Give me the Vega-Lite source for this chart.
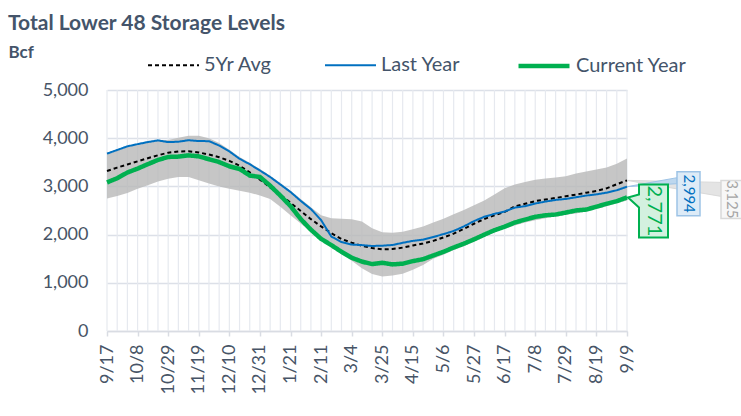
{
  "$schema": "https://vega.github.io/schema/vega-lite/v6.json",
  "width": 520,
  "height": 241,
  "autosize": "none",
  "padding": {"left": 107, "top": 90, "right": 114, "bottom": 85},
  "background": "white",
  "config": {"font": "Lato", "view": {"stroke": null}},
  "title": {"text": "Total Lower 48 Storage Levels", "anchor": "start", "frame": "group", "dx": -99, "dy": -4, "fontSize": 21, "fontWeight": "bold", "color": "#44546A", "offset": 0},
  "resolve": {"axis": {"x": "independent", "y": "independent"}},
  "data": {"values": [
    {"date": "2021-09-17", "cur": 3082, "last": 3680, "avg": 3320, "lo": 2750, "hi": 3690},
    {"date": "2021-09-24", "cur": 3170, "last": 3756, "avg": 3390, "lo": 2800, "hi": 3760},
    {"date": "2021-10-01", "cur": 3288, "last": 3831, "avg": 3455, "lo": 2865, "hi": 3835},
    {"date": "2021-10-08", "cur": 3369, "last": 3877, "avg": 3520, "lo": 2950, "hi": 3880},
    {"date": "2021-10-15", "cur": 3461, "last": 3920, "avg": 3585, "lo": 3025, "hi": 3925},
    {"date": "2021-10-22", "cur": 3548, "last": 3955, "avg": 3645, "lo": 3100, "hi": 3960},
    {"date": "2021-10-29", "cur": 3611, "last": 3919, "avg": 3700, "lo": 3160, "hi": 3965},
    {"date": "2021-11-05", "cur": 3618, "last": 3927, "avg": 3725, "lo": 3195, "hi": 4010},
    {"date": "2021-11-12", "cur": 3644, "last": 3958, "avg": 3730, "lo": 3195, "hi": 4050},
    {"date": "2021-11-19", "cur": 3623, "last": 3940, "avg": 3705, "lo": 3130, "hi": 4050},
    {"date": "2021-11-26", "cur": 3564, "last": 3939, "avg": 3660, "lo": 3060, "hi": 4000},
    {"date": "2021-12-03", "cur": 3505, "last": 3848, "avg": 3605, "lo": 3000, "hi": 3900},
    {"date": "2021-12-10", "cur": 3417, "last": 3726, "avg": 3530, "lo": 2950, "hi": 3760},
    {"date": "2021-12-17", "cur": 3362, "last": 3573, "avg": 3430, "lo": 2910, "hi": 3610},
    {"date": "2021-12-24", "cur": 3226, "last": 3460, "avg": 3290, "lo": 2870, "hi": 3490},
    {"date": "2021-12-31", "cur": 3195, "last": 3330, "avg": 3140, "lo": 2810, "hi": 3360},
    {"date": "2022-01-07", "cur": 3016, "last": 3196, "avg": 2980, "lo": 2740, "hi": 3220},
    {"date": "2022-01-14", "cur": 2810, "last": 3040, "avg": 2830, "lo": 2580, "hi": 3070},
    {"date": "2022-01-21", "cur": 2591, "last": 2884, "avg": 2660, "lo": 2400, "hi": 2910},
    {"date": "2022-01-28", "cur": 2323, "last": 2700, "avg": 2490, "lo": 2230, "hi": 2740},
    {"date": "2022-02-04", "cur": 2101, "last": 2530, "avg": 2320, "lo": 2050, "hi": 2570},
    {"date": "2022-02-11", "cur": 1911, "last": 2300, "avg": 2170, "lo": 1880, "hi": 2400},
    {"date": "2022-02-18", "cur": 1782, "last": 1960, "avg": 2030, "lo": 1730, "hi": 2340},
    {"date": "2022-02-25", "cur": 1643, "last": 1845, "avg": 1910, "lo": 1600, "hi": 2330},
    {"date": "2022-03-04", "cur": 1519, "last": 1793, "avg": 1830, "lo": 1460, "hi": 2320},
    {"date": "2022-03-11", "cur": 1440, "last": 1782, "avg": 1770, "lo": 1300, "hi": 2270},
    {"date": "2022-03-18", "cur": 1389, "last": 1764, "avg": 1720, "lo": 1180, "hi": 2130},
    {"date": "2022-03-25", "cur": 1415, "last": 1770, "avg": 1695, "lo": 1130, "hi": 2050},
    {"date": "2022-04-01", "cur": 1382, "last": 1784, "avg": 1700, "lo": 1150, "hi": 2040},
    {"date": "2022-04-08", "cur": 1397, "last": 1830, "avg": 1730, "lo": 1190, "hi": 2060},
    {"date": "2022-04-15", "cur": 1450, "last": 1870, "avg": 1775, "lo": 1270, "hi": 2110},
    {"date": "2022-04-22", "cur": 1490, "last": 1895, "avg": 1815, "lo": 1370, "hi": 2170},
    {"date": "2022-04-29", "cur": 1567, "last": 1950, "avg": 1870, "lo": 1500, "hi": 2250},
    {"date": "2022-05-06", "cur": 1643, "last": 2010, "avg": 1940, "lo": 1580, "hi": 2330},
    {"date": "2022-05-13", "cur": 1732, "last": 2075, "avg": 2020, "lo": 1680, "hi": 2420},
    {"date": "2022-05-20", "cur": 1812, "last": 2170, "avg": 2120, "lo": 1760, "hi": 2510},
    {"date": "2022-05-27", "cur": 1902, "last": 2280, "avg": 2225, "lo": 1850, "hi": 2610},
    {"date": "2022-06-03", "cur": 1999, "last": 2370, "avg": 2325, "lo": 1950, "hi": 2710},
    {"date": "2022-06-10", "cur": 2091, "last": 2430, "avg": 2400, "lo": 2050, "hi": 2830},
    {"date": "2022-06-17", "cur": 2165, "last": 2480, "avg": 2470, "lo": 2120, "hi": 2960},
    {"date": "2022-06-24", "cur": 2251, "last": 2560, "avg": 2585, "lo": 2190, "hi": 3040},
    {"date": "2022-07-01", "cur": 2311, "last": 2590, "avg": 2640, "lo": 2250, "hi": 3090},
    {"date": "2022-07-08", "cur": 2369, "last": 2645, "avg": 2695, "lo": 2300, "hi": 3140},
    {"date": "2022-07-15", "cur": 2401, "last": 2685, "avg": 2728, "lo": 2340, "hi": 3165},
    {"date": "2022-07-22", "cur": 2416, "last": 2720, "avg": 2760, "lo": 2380, "hi": 3185},
    {"date": "2022-07-29", "cur": 2457, "last": 2740, "avg": 2795, "lo": 2410, "hi": 3210},
    {"date": "2022-08-05", "cur": 2501, "last": 2775, "avg": 2830, "lo": 2440, "hi": 3270},
    {"date": "2022-08-12", "cur": 2519, "last": 2810, "avg": 2870, "lo": 2480, "hi": 3310},
    {"date": "2022-08-19", "cur": 2579, "last": 2835, "avg": 2905, "lo": 2530, "hi": 3350},
    {"date": "2022-08-26", "cur": 2640, "last": 2870, "avg": 2960, "lo": 2590, "hi": 3390},
    {"date": "2022-09-02", "cur": 2694, "last": 2920, "avg": 3045, "lo": 2650, "hi": 3470},
    {"date": "2022-09-09", "cur": 2771, "last": 2994, "avg": 3125, "lo": 2710, "hi": 3580}
  ]},
  "layer": [
    {
      "mark": {"type": "rule", "color": "#E6E9EF", "strokeWidth": 1.2},
      "encoding": {
        "x": {"field": "date", "type": "temporal",
          "scale": {"type": "utc", "domain": [1631836800000, 1662681600000], "nice": false},
          "axis": {"orient": "bottom", "values": [1631836800000, 1633651200000, 1635465600000, 1637280000000, 1639094400000, 1640908800000, 1642723200000, 1644537600000, 1646352000000, 1648166400000, 1649980800000, 1651795200000, 1653609600000, 1655424000000, 1657238400000, 1659052800000, 1660867200000, 1662681600000],
            "format": "%-m/%-d", "labelAngle": -90, "labelFontSize": 18, "labelColor": "#475466", "labelPadding": 8,
            "grid": false, "domainColor": "#D9DCE3", "domainWidth": 1.5, "tickColor": "#D9DCE3", "tickSize": 5, "tickWidth": 1.5, "title": null, "labelFlush": false, "labelOverlap": false, "labelBound": false}}
      }
    },
    {
      "mark": {"type": "area", "color": "#B8B8B8", "opacity": 0.8},
      "encoding": {
        "x": {"field": "date", "type": "temporal", "axis": null},
        "y": {"field": "lo", "type": "quantitative",
          "scale": {"domain": [0, 5000], "nice": false},
          "axis": {"orient": "left", "values": [0, 1000, 2000, 3000, 4000, 5000], "format": ",.0f", "grid": true, "gridColor": "#DCE0E8", "gridWidth": 1.5,
            "domain": false, "ticks": false, "tickSize": 0, "labelPadding": 19, "labelFontSize": 18, "labelColor": "#475466",
            "title": "Bcf", "titleAngle": 0, "titleX": -99, "titleY": -33, "titleAlign": "left", "titleBaseline": "alphabetic",
            "titleFontSize": 17, "titleFontWeight": "bold", "titleColor": "#44546A"}},
        "y2": {"field": "hi"}
      }
    },
    {
      "transform": [{"fold": ["avg", "last", "cur"], "as": ["series", "value"]}],
      "mark": {"type": "line", "strokeCap": "butt"},
      "encoding": {
        "x": {"field": "date", "type": "temporal", "axis": null},
        "y": {"field": "value", "type": "quantitative", "axis": null},
        "color": {"field": "series", "type": "nominal",
          "scale": {"domain": ["avg", "last", "cur"], "range": ["#000000", "#0070C0", "#00B050"]},
          "legend": {"orient": "none", "legendX": 40, "legendY": -52, "direction": "horizontal", "title": null,
            "symbolType": "stroke", "symbolSize": 2600, "labelFontSize": 20, "labelColor": "#44546A", "labelOffset": 4,
            "columnPadding": 48, "padding": 0,
            "labelExpr": "{'avg': '5Yr Avg', 'last': 'Last Year', 'cur': 'Current Year'}[datum.label]"}},
        "strokeDash": {"field": "series", "type": "nominal",
          "scale": {"domain": ["avg", "last", "cur"], "range": [[4, 3], [1, 0], [1, 0]]},
          "legend": {"orient": "none", "legendX": 40, "legendY": -52, "direction": "horizontal", "title": null,
            "symbolType": "stroke", "symbolSize": 2600, "labelFontSize": 20, "labelColor": "#44546A", "labelOffset": 4,
            "columnPadding": 48, "padding": 0,
            "labelExpr": "{'avg': '5Yr Avg', 'last': 'Last Year', 'cur': 'Current Year'}[datum.label]"}},
        "strokeWidth": {"field": "series", "type": "nominal",
          "scale": {"type": "ordinal", "domain": ["avg", "last", "cur"], "range": [2, 2, 4.5]},
          "legend": {"orient": "none", "legendX": 40, "legendY": -52, "direction": "horizontal", "title": null,
            "symbolType": "stroke", "symbolSize": 2600, "labelFontSize": 20, "labelColor": "#44546A", "labelOffset": 4,
            "columnPadding": 48, "padding": 0,
            "labelExpr": "{'avg': '5Yr Avg', 'last': 'Last Year', 'cur': 'Current Year'}[datum.label]"}}
      }
    },
    {
      "data": {"values": [{"date": "2022-09-09", "v": 3125}]},
      "mark": {"type": "point", "shape": "M0,0L94,2L94,16Z", "size": 4, "filled": true, "fill": "#E4E4E4", "stroke": "#D9D9D9", "strokeWidth": 1, "opacity": 1},
      "encoding": {"x": {"field": "date", "type": "temporal", "axis": null}, "y": {"field": "v", "type": "quantitative", "axis": null}}
    },
    {
      "data": {"values": [{"date": "2022-09-09", "v": 2994}]},
      "mark": {"type": "point", "shape": "M0,0L50,-9L50,-3Z", "size": 4, "filled": true, "fill": "#BDD7EE", "stroke": "#9DC3E6", "strokeWidth": 1, "opacity": 1},
      "encoding": {"x": {"field": "date", "type": "temporal", "axis": null}, "y": {"field": "v", "type": "quantitative", "axis": null}}
    },
    {
      "data": {"values": [{"date": "2022-09-09", "v": 3125}]},
      "mark": {"type": "point", "shape": "M94,0H116V38H94Z", "size": 4, "filled": true, "fill": "#F7F7F7", "stroke": "#D9D9D9", "strokeWidth": 1.5, "opacity": 1},
      "encoding": {"x": {"field": "date", "type": "temporal", "axis": null}, "y": {"field": "v", "type": "quantitative", "axis": null}}
    },
    {
      "data": {"values": [{"date": "2022-09-09", "v": 2994}]},
      "mark": {"type": "point", "shape": "M50,-15H73V29H50Z", "size": 4, "filled": true, "fill": "#DDEBF7", "stroke": "#9DC3E6", "strokeWidth": 1.5, "opacity": 1},
      "encoding": {"x": {"field": "date", "type": "temporal", "axis": null}, "y": {"field": "v", "type": "quantitative", "axis": null}}
    },
    {
      "data": {"values": [{"date": "2022-09-09", "v": 2771}]},
      "mark": {"type": "point", "shape": "M12,-13H41V40H12V10L1,0L12,-3Z", "size": 4, "filled": true, "fill": "#D3F1DF", "stroke": "#00B050", "strokeWidth": 2, "opacity": 1},
      "encoding": {"x": {"field": "date", "type": "temporal", "axis": null}, "y": {"field": "v", "type": "quantitative", "axis": null}}
    },
    {
      "data": {"values": [{"date": "2022-09-09", "v": 3125}]},
      "mark": {"type": "text", "angle": 90, "align": "center", "baseline": "middle", "dx": 19, "dy": -105, "fontSize": 15, "color": "#A6A6A6"},
      "encoding": {"x": {"field": "date", "type": "temporal", "axis": null}, "y": {"field": "v", "type": "quantitative", "axis": null}, "text": {"field": "v", "type": "quantitative", "format": ","}}
    },
    {
      "data": {"values": [{"date": "2022-09-09", "v": 2994}]},
      "mark": {"type": "text", "angle": 90, "align": "center", "baseline": "middle", "dx": 7, "dy": -61.5, "fontSize": 15, "color": "#0070C0"},
      "encoding": {"x": {"field": "date", "type": "temporal", "axis": null}, "y": {"field": "v", "type": "quantitative", "axis": null}, "text": {"field": "v", "type": "quantitative", "format": ","}}
    },
    {
      "data": {"values": [{"date": "2022-09-09", "v": 2771}]},
      "mark": {"type": "text", "angle": 90, "align": "center", "baseline": "middle", "dx": 13.5, "dy": -26.5, "fontSize": 20, "color": "#00B050"},
      "encoding": {"x": {"field": "date", "type": "temporal", "axis": null}, "y": {"field": "v", "type": "quantitative", "axis": null}, "text": {"field": "v", "type": "quantitative", "format": ","}}
    }
  ]
}
